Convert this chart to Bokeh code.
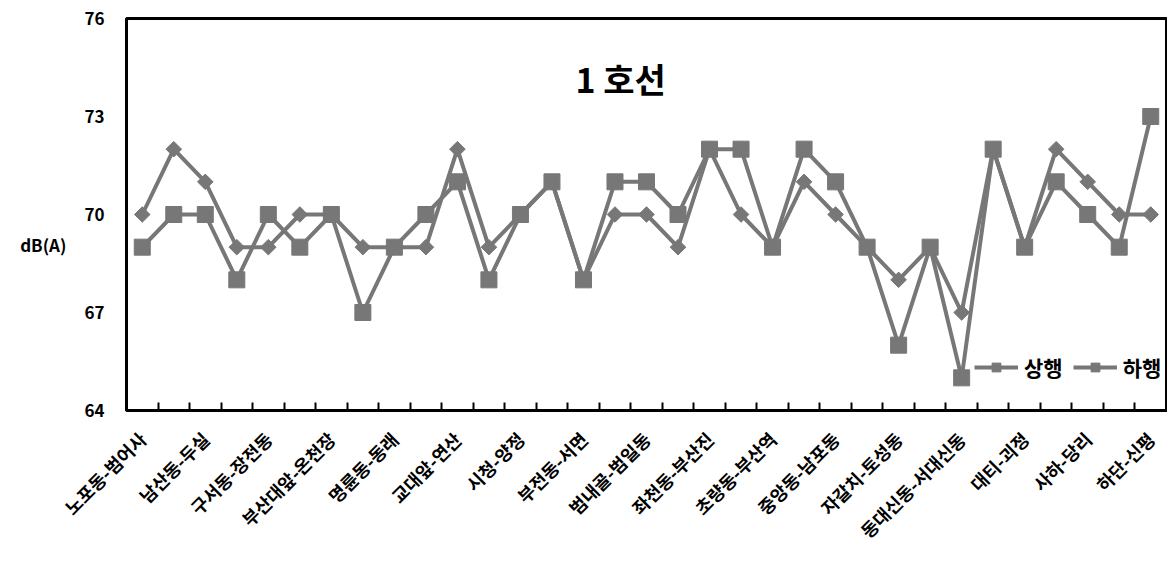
import math
from bokeh.plotting import figure
from bokeh.models import Range1d, FixedTicker, Label, Legend, LegendItem
from bokeh.embed import file_html
from bokeh.resources import INLINE

segments = ["노포동-범어사", "범어사-남산동", "남산동-두실", "두실-구서동", "구서동-장전동",
            "장전동-부산대앞", "부산대앞-온천장", "온천장-명륜동", "명륜동-동래", "동래-교대앞",
            "교대앞-연산", "연산-시청", "시청-양정", "양정-부전동", "부전동-서면",
            "서면-범내골", "범내골-범일동", "범일동-좌천동", "좌천동-부산진", "부산진-초량동",
            "초량동-부산역", "부산역-중앙동", "중앙동-남포동", "남포동-자갈치", "자갈치-토성동",
            "토성동-동대신동", "동대신동-서대신동", "서대신동-대티", "대티-괴정", "괴정-사하",
            "사하-당리", "당리-하단", "하단-신평"]

up_values = [70, 72, 71, 69, 69, 70, 70, 69, 69, 69, 72, 69, 70, 71, 68, 70, 70,
             69, 72, 70, 69, 71, 70, 69, 68, 69, 67, 72, 69, 72, 71, 70, 70]
down_values = [69, 70, 70, 68, 70, 69, 70, 67, 69, 70, 71, 68, 70, 71, 68, 71, 71,
               70, 72, 72, 69, 72, 71, 69, 66, 69, 65, 72, 69, 71, 70, 69, 73]

series_names = ["상행", "하행"]
y_ticks = [64, 67, 70, 73, 76]
title_text = "1 호선"
y_title = "dB(A)"

FONT = "Noto Sans CJK KR"
GRAY = "#777777"

x = list(range(1, len(segments) + 1))
label_positions = x[::2]
tick_labels = {pos: segments[pos - 1] for pos in label_positions}

p = figure(width=1167, height=562, output_backend="svg", toolbar_location=None,
           x_range=Range1d(0.5, len(segments) + 0.5), y_range=Range1d(64, 76),
           min_border_left=126, min_border_right=1, min_border_top=18, min_border_bottom=152)
p.xgrid.visible = False
p.ygrid.visible = False
p.outline_line_color = "black"
p.outline_line_width = 3
p.background_fill_color = "white"
p.border_fill_color = "white"

r1l = p.line(x, up_values, line_color=GRAY, line_width=4)
r1m = p.scatter(x, up_values, marker="square", angle=math.pi / 4, size=11,
                fill_color=GRAY, line_color=GRAY)
r2l = p.line(x, down_values, line_color=GRAY, line_width=4)
r2m = p.scatter(x, down_values, marker="square", size=16,
                fill_color=GRAY, line_color=GRAY)

# x axis
xa = p.xaxis[0]
xa.ticker = FixedTicker(ticks=label_positions,
                        minor_ticks=[i + 0.5 for i in range(0, len(segments) + 1)])
xa.major_label_overrides = tick_labels
xa.major_label_orientation = math.pi / 4
xa.major_tick_in = 0
xa.major_tick_out = 0
xa.minor_tick_in = 8
xa.minor_tick_out = 0
xa.minor_tick_line_color = "black"
xa.minor_tick_line_width = 2
xa.axis_line_color = "black"
xa.axis_line_width = 3
xa.major_label_text_font = FONT
xa.major_label_text_font_style = "bold"
xa.major_label_text_font_size = "18px"
xa.major_label_text_color = "black"
xa.major_label_standoff = 25

# y axis
ya = p.yaxis[0]
ya.ticker = FixedTicker(ticks=y_ticks)
ya.major_tick_in = 0
ya.major_tick_out = 0
ya.minor_tick_in = 0
ya.minor_tick_out = 0
ya.axis_line_color = "black"
ya.axis_line_width = 3
ya.major_label_text_font = FONT
ya.major_label_text_font_style = "bold"
ya.major_label_text_font_size = "17px"
ya.major_label_text_color = "black"
ya.major_label_standoff = 22
ya.axis_label = "\n\n" + y_title
ya.axis_label_orientation = "horizontal"
ya.axis_label_standoff = 15
ya.axis_label_text_font = FONT
ya.axis_label_text_font_style = "bold"
ya.axis_label_text_font_size = "17px"
ya.axis_label_text_color = "black"

p.add_layout(Label(x=16.18, y=74.15, text=title_text, text_font=FONT, text_font_style="bold",
                   text_font_size="34px", text_align="center", text_baseline="middle",
                   text_color="black"))

legend = Legend(items=[LegendItem(label=series_names[0], renderers=[r1l, r1m]),
                       LegendItem(label=series_names[1], renderers=[r2l, r2m])],
                orientation="horizontal", location=(846, 26),
                background_fill_alpha=0, border_line_alpha=0,
                label_text_font=FONT, label_text_font_style="bold",
                label_text_font_size="21px", label_text_color="black",
                glyph_width=44, glyph_height=22, spacing=10, label_standoff=6,
                padding=2, margin=0)
p.add_layout(legend)

open("out.html", "w").write(file_html(p, INLINE))
